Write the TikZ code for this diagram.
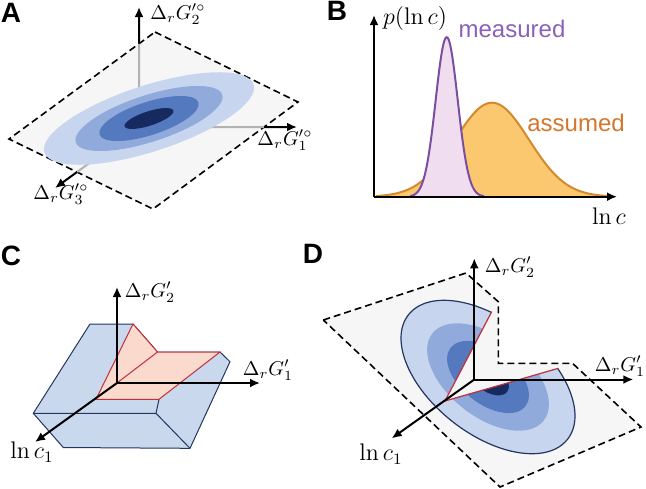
\documentclass[tikz,border=0pt]{standalone}
\usepackage{fontspec}
\setsansfont{Liberation Sans}
\usetikzlibrary{arrows.meta}

\definecolor{azulA}{HTML}{C7D6EE}
\definecolor{azulB}{HTML}{8FAADB}
\definecolor{azulC}{HTML}{5579BF}
\definecolor{azulD}{HTML}{162A5F}
\definecolor{marino}{HTML}{24365F}
\definecolor{caja}{HTML}{C9D8ED}
\definecolor{rosa}{HTML}{FADACD}
\definecolor{rojo}{HTML}{C0303A}
\definecolor{morado}{HTML}{7B4FA0}
\definecolor{lila}{HTML}{F0DEF0}
\definecolor{naranja}{HTML}{FBC86F}
\definecolor{ocre}{HTML}{D48A2C}
\definecolor{textoM}{HTML}{8A60B8}
\definecolor{textoA}{HTML}{D2772E}
\definecolor{plano}{HTML}{F6F6F7}

\tikzset{
  eje/.style={line width=1pt,-{Latex[length=5pt,width=4.5pt]}},
  ejegris/.style={line width=1pt,black!30},
  borde/.style={line width=0.8pt,dash pattern=on 3.5pt off 2pt},
  etiq/.style={font=\fontsize{10}{12}\selectfont},
  etiqg/.style={font=\fontsize{12}{14}\selectfont},
  letra/.style={font=\fontsize{14}{16}\selectfont\sffamily\bfseries},
}

\begin{document}
\begin{tikzpicture}[x=0.5pt,y=-0.5pt]
\useasboundingbox (0,0) rectangle (646,488);

%% A
\node[letra] (la) at (11,13) {A};

\coordinate (pa1) at (155,32);
\coordinate (pa2) at (298,102);
\coordinate (pa3) at (153,209);
\coordinate (pa4) at (9,139);
\fill[plano] (pa1) -- (pa2) -- (pa3) -- (pa4) -- cycle;
\draw[borde] (pa1) -- (pa2) -- (pa3) -- (pa4) -- cycle;

\coordinate (oA) at (139,127);
\coordinate (tA1) at (297,127);
\coordinate (tA2) at (139,7);
\coordinate (tA3) at (55,188);
\coordinate (bA1) at (intersection of oA--tA1 and pa2--pa3);
\coordinate (bA2) at (intersection of oA--tA2 and pa1--pa4);
\coordinate (bA3) at (intersection of oA--tA3 and pa3--pa4);
\draw[ejegris] (oA) -- (bA1);
\draw[ejegris] (oA) -- (bA2);
\draw[ejegris] (oA) -- (bA3);

\begin{scope}[shift={(149,118.5)},rotate=18]
\fill[azulA] (0,0) ellipse (110 and 33);
\fill[azulB] (0,0) ellipse (77 and 23.3);
\fill[azulC] (0,0) ellipse (52 and 16.6);
\fill[azulD] (0,0) ellipse (25.6 and 7.2);
\end{scope}

\draw[eje] (bA1) -- (tA1);
\draw[eje] (bA2) -- (tA2);
\draw[eje] (bA3) -- (tA3);

\node[etiq] (gA1) at (285,140) {$\Delta_r G_1^{\prime\circ}$};
\node[etiq] (gA2) at (178,14) {$\Delta_r G_2^{\prime\circ}$};
\node[etiq] (gA3) at (61,194) {$\Delta_r G_3^{\prime\circ}$};

%% B
\node[letra] (lb) at (337,11) {B};

\coordinate (oB) at (374,196.7);
\coordinate (xB) at (617,196.7);
\coordinate (yB) at (374,15);

\fill[naranja] (376,196.7) -- plot[domain=376:610,samples=120] (\x,{196.7-94*exp(-0.5*((\x-492)/37)^2)}) -- (610,196.7) -- cycle;
\draw[ocre,line width=1pt] plot[domain=376:610,samples=120] (\x,{196.7-94*exp(-0.5*((\x-492)/37)^2)});
\fill[lila] (410,196.7) -- plot[domain=410:484,samples=100] (\x,{196.7-159.5*exp(-0.5*((\x-446.7)/11)^2)}) -- (484,196.7) -- cycle;
\draw[morado,line width=1pt] plot[domain=410:484,samples=100] (\x,{196.7-159.5*exp(-0.5*((\x-446.7)/11)^2)});

\draw[eje] (oB) -- (xB);
\draw[eje] (oB) -- (yB);

\node[etiqg] (py) at (415,18) {$p(\ln c)$};
\node[etiqg] (px) at (609,216) {$\ln c$};
\node[font=\fontsize{12}{14}\selectfont\sffamily,text=textoM] (med) at (512,28.5) {measured};
\node[font=\fontsize{12}{14}\selectfont\sffamily,text=textoA] (asu) at (576,122.5) {assumed};

%% C
\node[letra] (lc) at (11,256) {C};

\coordinate (c1) at (90,324);
\coordinate (c2) at (133,324);
\coordinate (c3) at (157.5,352);
\coordinate (c4) at (220,352);
\coordinate (c5) at (230,361.7);
\coordinate (c6) at (190,448.3);
\coordinate (c7) at (63.3,447.5);
\coordinate (c8) at (33.3,413.3);
\coordinate (c9) at (156,413.3);
\coordinate (c10) at (159,399.3);
\coordinate (c11) at (96,399.3);
\coordinate (oC) at (117,383);

\filldraw[fill=caja,draw=marino,line width=0.5pt] (c1) -- (c2) -- (c3) -- (c4) -- (c5) -- (c6) -- (c7) -- (c8) -- cycle;
\draw[marino,line width=0.5pt] (c8) -- (c9) -- (c6);
\draw[marino,line width=0.5pt] (c9) -- (c10);
\filldraw[fill=rosa,draw=rojo,line width=0.5pt] (c11) -- (c2) -- (c3) -- (c4) -- (c10) -- cycle;
\draw[rojo,line width=0.5pt] (c3) -- (oC);

\draw[eje] (oC) -- (260,383) coordinate (tC1);
\draw[eje] (oC) -- (117,287) coordinate (tC2);
\draw[eje] (oC) -- (35,442) coordinate (tC3);

\node[etiq] (gC1) at (268,370) {$\Delta_r G_1'$};
\node[etiq] (gC2) at (150,292) {$\Delta_r G_2'$};
\node[etiqg] (gC3) at (32,452) {$\ln c_1$};

%% D
\node[letra] (ld) at (313,254) {D};

\coordinate (d1) at (323.3,320);
\coordinate (d2) at (466,273);
\coordinate (d3) at (498.3,301.7);
\coordinate (d4) at (498.3,363.3);
\coordinate (d5) at (572.5,363.3);
\coordinate (d6) at (641,427);
\coordinate (d7) at (500,487);
\fill[plano] (d1) -- (d2) -- (d3) -- (d4) -- (d5) -- (d6) -- (d7) -- cycle;

\coordinate (r0) at (445,401);
\coordinate (r1) at (491.7,311.7);
\coordinate (r2) at (558.3,368.3);

\begin{scope}
\clip (r0) -- (585.1,133.1) -- (300,133) -- (300,490) -- (700,490) -- (785,302.9) -- cycle; % sin la cuna
\begin{scope}[shift={(488,377)},rotate=-38]
\fill[azulA] (0,0) ellipse (101 and 57);
\fill[azulB] (0,0) ellipse (70.7 and 39.9);
\fill[azulC] (0,0) ellipse (47.5 and 26.8);
\fill[azulD] (0,0) ellipse (24.2 and 13.7);
\draw[marino,line width=0.6pt] (0,0) ellipse (101 and 57);
\end{scope}
\end{scope}

\draw[borde] (d1) -- (d2) -- (d3) -- (d4) -- (d5) -- (d6) -- (d7) -- cycle;
\draw[rojo,line width=0.6pt] (r1) -- (r0) -- (r2);

\coordinate (oD) at (474.3,379.5);
\draw[eje] (oD) -- (633.3,379.5) coordinate (tD1);
\draw[eje] (oD) -- (474.3,258.3) coordinate (tD2);
\draw[eje] (oD) -- (391.7,438.3) coordinate (tD3);

\node[etiq] (gD1) at (620,366) {$\Delta_r G_1'$};
\node[etiq] (gD2) at (510,267) {$\Delta_r G_2'$};
\node[etiqg] (gD3) at (381,454) {$\ln c_1$};

\end{tikzpicture}
\end{document}
